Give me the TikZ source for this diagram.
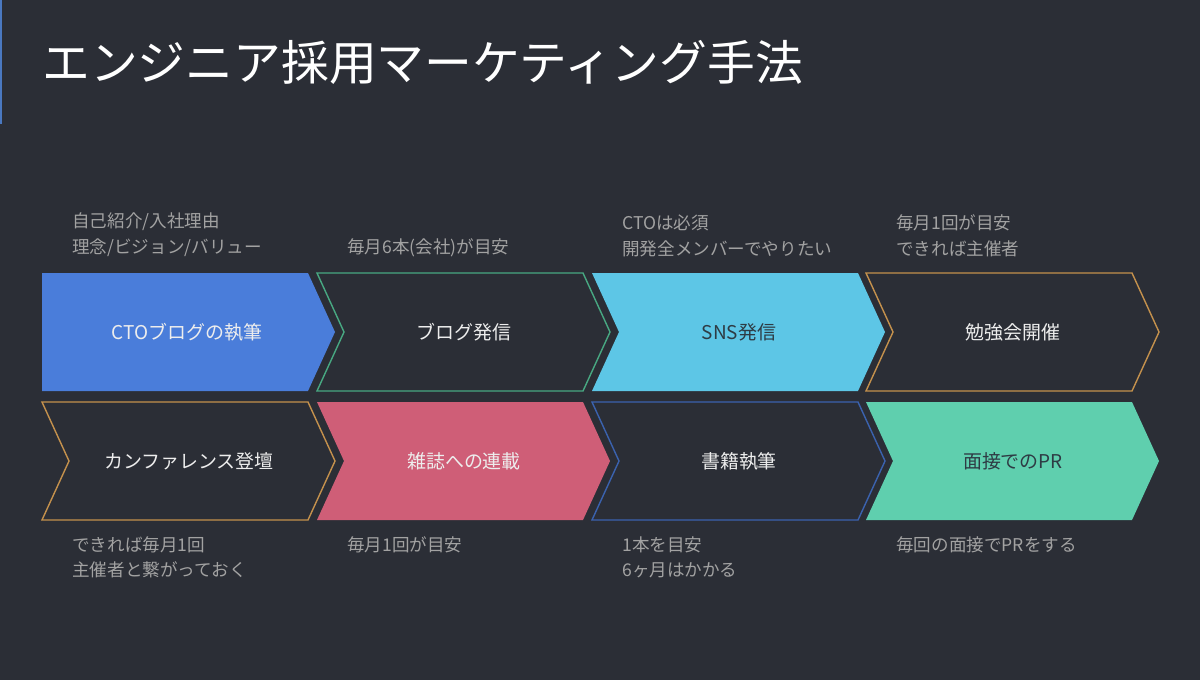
\documentclass[tikz,border=0pt]{standalone}
\usepackage{fontspec}
\setmainfont{Noto Sans CJK JP}
\usepackage{tikz}
\usetikzlibrary{calc}
\usetikzlibrary{positioning}

\definecolor{bgdark}{HTML}{2B2E36}
\definecolor{edgeblue}{HTML}{4A78C0}
\definecolor{ctoblue}{HTML}{4A7DDA}
\definecolor{bloggreen}{HTML}{48A882}
\definecolor{snscyan}{HTML}{5DC6E6}
\definecolor{studyorange}{HTML}{C4914D}
\definecolor{confpink}{HTML}{CF5E77}
\definecolor{bookblue}{HTML}{3B62AE}
\definecolor{prmint}{HTML}{5FCFAE}
\definecolor{notegray}{HTML}{A2A2A2}
\definecolor{capwhite}{HTML}{EDEDED}
\definecolor{capdark}{HTML}{2E3B44}

\begin{document}
\begin{tikzpicture}[x=0.02cm,y=-0.02cm,
		chev/.style={insert path={-- ++(266,0) -- ++(27,59) -- ++(-27,59) -- ++(-266,0) -- ++(27,-59) -- cycle}},
		outline/.style={line width=0.8pt,fill=bgdark},
		caption/.style={font=\fontsize{10.8}{13}\selectfont,text=capwhite,inner sep=0pt},
		note/.style={font=\fontsize{10}{14.7}\selectfont,text=notegray,align=left,inner sep=0pt}]
			%background
			\fill[bgdark] (0,0) rectangle (1200,680);
			\fill[edgeblue] (0,0) rectangle (2,124);
			%title
			\node[anchor=west,inner sep=0pt,text=white,font=\fontsize{27.2}{30}\selectfont] (title) at (42,62) {エンジニア採用マーケティング手法};
			%first row
			\fill[ctoblue] (42,273) -- ++(266,0) -- ++(27,59) -- ++(-27,59) -- ++(-266,0) -- cycle;
			\draw[outline,draw=bloggreen] (317,273) [chev];
			\fill[snscyan] (592,273) [chev];
			\draw[outline,draw=studyorange] (866,273) [chev];
			\node[caption] (cto) at (187,332) {CTOブログの執筆};
			\node[caption] (blog) at (464,332) {ブログ発信};
			\node[caption,text=capdark] (sns) at (739,332) {SNS発信};
			\node[caption] (study) at (1013,332) {勉強会開催};
			%second row
			\draw[outline,draw=studyorange] (42,402) [chev];
			\fill[confpink] (317,402) [chev];
			\draw[outline,draw=bookblue] (592,402) [chev];
			\fill[prmint] (866,402) [chev];
			\node[caption] (conf) at (189,461) {カンファレンス登壇};
			\node[caption] (mag) at (464,461) {雑誌への連載};
			\node[caption] (book) at (739,461) {書籍執筆};
			\node[caption,text=capdark] (interview) at (1013,461) {面接でのPR};
			%notes above
			\node[note,anchor=south west] (cto_note) at (72,257) {自己紹介/入社理由\\理念/ビジョン/バリュー};
			\node[note,anchor=south west] (blog_note) at (347,257) {毎月6本(会社)が目安};
			\node[note,anchor=south west] (sns_note) at (622,257) {CTOは必須\\開発全メンバーでやりたい};
			\node[note,anchor=south west] (study_note) at (896,257) {毎月1回が目安\\できれば主催者};
			%notes below
			\node[note,anchor=north west] (conf_note) at (72,536) {できれば毎月1回\\主催者と繋がっておく};
			\node[note,anchor=north west] (mag_note) at (347,536) {毎月1回が目安};
			\node[note,anchor=north west] (book_note) at (622,536) {1本を目安\\6ヶ月はかかる};
			\node[note,anchor=north west] (interview_note) at (896,536) {毎回の面接でPRをする};
		\end{tikzpicture}
\end{document}
